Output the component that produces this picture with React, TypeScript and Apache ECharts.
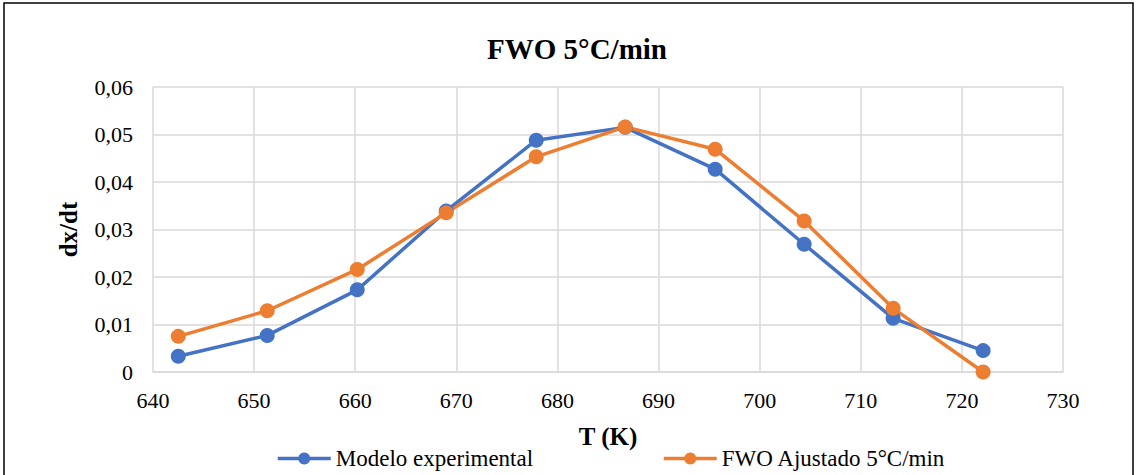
import React, { useEffect, useRef } from "react";
import * as echarts from "echarts";

const temperatures = [642.5, 651.3, 660.2, 669.0, 677.9, 686.7, 695.6, 704.4, 713.2, 722.1];
const experimental = [0.0033, 0.0077, 0.0173, 0.0339, 0.0488, 0.0515, 0.0427, 0.0269, 0.0113, 0.0045];
const fwoFitted = [0.0075, 0.0129, 0.0216, 0.0335, 0.0453, 0.0516, 0.0469, 0.0318, 0.0134, 0.0];
const seriesNames = ["Modelo experimental", "FWO Ajustado 5°C/min"];
const titleText = "FWO 5°C/min";
const xAxisName = "T (K)";
const yAxisName = "dx/dt";

const FONT = "'Liberation Serif', 'Times New Roman', serif";

export default function App() {
  const ref = useRef<HTMLDivElement>(null);
  useEffect(() => {
    if (!ref.current) return;
    const chart = echarts.init(ref.current, null, { renderer: "svg" });
    const pair = (vals: number[]) => temperatures.map((t, i) => [t, vals[i]]);
    const legendBase = {
      top: 447,
      padding: 0,
      itemWidth: 53,
      itemHeight: 15,
      lineStyle: { width: 3.5 },
      textStyle: { fontFamily: FONT, fontSize: 23, color: "#000" },
    };
    chart.setOption({
      animation: false,
      backgroundColor: "#ffffff",
      textStyle: { fontFamily: FONT },
      title: {
        text: titleText,
        left: 572,
        top: 29,
        textAlign: "center",
        textStyle: { fontFamily: FONT, fontSize: 29, fontWeight: "bold", color: "#000" },
      },
      graphic: [
        {
          type: "rect",
          shape: { x: 4, y: 3, width: 1129, height: 480 },
          style: { fill: "none", stroke: "#000", lineWidth: 1.5 },
          silent: true,
        },
      ],
      legend: [
        { ...legendBase, data: [seriesNames[0]], left: 276 },
        { ...legendBase, data: [seriesNames[1]], left: 662 },
      ],
      grid: { left: 153, right: 74, top: 87, bottom: 103, containLabel: false },
      xAxis: {
        type: "value",
        min: 640,
        max: 730,
        interval: 10,
        name: xAxisName,
        nameLocation: "middle",
        nameGap: 52,
        nameTextStyle: { fontFamily: FONT, fontSize: 25, fontWeight: "bold", color: "#000" },
        axisLine: { show: true, lineStyle: { color: "#D9D9D9", width: 1.5 } },
        axisTick: { show: false },
        axisLabel: { margin: 17, fontFamily: FONT, fontSize: 22, color: "#000" },
        splitLine: { show: true, lineStyle: { color: "#D9D9D9", width: 1.5 } },
      },
      yAxis: {
        type: "value",
        min: 0,
        max: 0.06,
        interval: 0.01,
        name: yAxisName,
        nameLocation: "middle",
        nameGap: 72,
        nameRotate: 90,
        nameTextStyle: { fontFamily: FONT, fontSize: 25, fontWeight: "bold", color: "#000" },
        axisLine: { show: false },
        axisTick: { show: false },
        axisLabel: {
          margin: 20,
          fontFamily: FONT,
          fontSize: 22,
          color: "#000",
          formatter: (v: number) => (v === 0 ? "0" : v.toFixed(2).replace(".", ",")),
        },
        splitLine: { show: true, lineStyle: { color: "#D9D9D9", width: 1.5 } },
      },
      series: [
        {
          name: seriesNames[0],
          type: "line",
          data: pair(experimental),
          symbol: "circle",
          symbolSize: 15,
          color: "#4472C4",
          lineStyle: { width: 3.5, color: "#4472C4" },
          itemStyle: { color: "#4472C4" },
        },
        {
          name: seriesNames[1],
          type: "line",
          data: pair(fwoFitted),
          symbol: "circle",
          symbolSize: 15,
          color: "#ED7D31",
          lineStyle: { width: 3.5, color: "#ED7D31" },
          itemStyle: { color: "#ED7D31" },
        },
      ],
    });
    return () => chart.dispose();
  }, []);
  return (
    <div
      ref={ref}
      style={{ position: "fixed", left: 0, top: 0, width: 1137, height: 475, background: "#fff" }}
    />
  );
}
